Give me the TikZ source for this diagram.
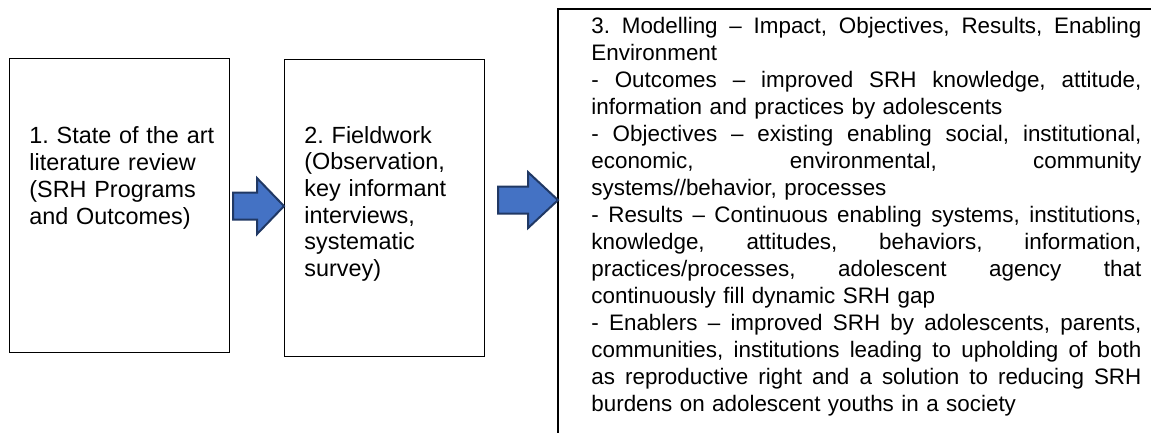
\documentclass[tikz,border=0pt]{standalone}
\usepackage{fontspec}
\setmainfont{Liberation Sans}
\usetikzlibrary{calc}
\definecolor{arrowfill}{HTML}{4472C4}
\definecolor{arrowline}{HTML}{203864}
\newcommand{\justline}[1]{\leavevmode\hbox to 275pt{\spaceskip=0.278em plus 1fil\xspaceskip=0.278em plus 1fil\relax #1}}
\newcommand{\blockarrow}[3]{%
  \draw[blockarrow] ($(#1)+(0,-13.5)$) -- ($(#2)+(-#3,-13.5)$) -- ($(#2)+(-#3,-28)$) -- (#2)
    -- ($(#2)+(-#3,28)$) -- ($(#2)+(-#3,13.5)$) -- ($(#1)+(0,13.5)$) -- cycle;}
\begin{document}
\frenchspacing
\begin{tikzpicture}[x=0.5pt,y=-0.5pt,
  frame/.style={draw=black, line width=0.6pt},
  boxtext/.style={anchor=base west, inner sep=0pt, align=left,
    font=\fontsize{11.7}{13.35}\selectfont, text width=#1},
  blockarrow/.style={fill=arrowfill, draw=arrowline, line width=1pt, line join=miter}]
\useasboundingbox (0,0) rectangle (1151,433);
% boxes
\node[frame, minimum width=110pt, minimum height=147pt, anchor=north west, inner sep=0pt] (b1) at (9,58) {};
\node[frame, minimum width=100pt, minimum height=148.5pt, anchor=north west, inner sep=0pt] (b2) at (284,59) {};
\coordinate (b3) at (558,9);
\coordinate (b3bottom) at (558,433);
\coordinate (b3right) at (1151,9);
\draw[frame] (b3bottom) -- (b3) -- (b3right);
% texts
\node[boxtext=100pt] (t1) at (29,144) {1. State of the art\\literature review\\(SRH Programs\\and Outcomes)};
\node[boxtext=90pt] (t2) at (304,143) {2. Fieldwork\\(Observation,\\key informant\\interviews,\\systematic\\survey)};
\node[anchor=base west, inner sep=0pt, text width=276pt, align=left,
  font=\fontsize{11.2}{13.5}\selectfont] (t3) at (591,34) {%
\justline{3. Modelling – Impact, Objectives, Results, Enabling}\\
Environment\\
\justline{- Outcomes – improved SRH knowledge, attitude,}\\
information and practices by adolescents\\
\justline{- Objectives – existing enabling social, institutional,}\\
\justline{economic, environmental, community}\\
systems//behavior, processes\\
\justline{- Results – Continuous enabling systems, institutions,}\\
\justline{knowledge, attitudes, behaviors, information,}\\
\justline{practices/processes, adolescent agency that}\\
continuously fill dynamic SRH gap\\
\justline{- Enablers – improved SRH by adolescents, parents,}\\
\justline{communities, institutions leading to upholding of both}\\
\justline{as reproductive right and a solution to reducing SRH}\\
burdens on adolescent youths in a society};
% arrows
\coordinate (a1s) at ($(b1.east)+(3,0.5)$);
\coordinate (a1t) at (b2.west |- a1s);
\coordinate (a2s) at ($(b2.east)+(13,-8)$);
\coordinate (a2t) at (b3 |- a2s);
\blockarrow{a1s}{a1t}{27}
\blockarrow{a2s}{a2t}{30}
\end{tikzpicture}
\end{document}
